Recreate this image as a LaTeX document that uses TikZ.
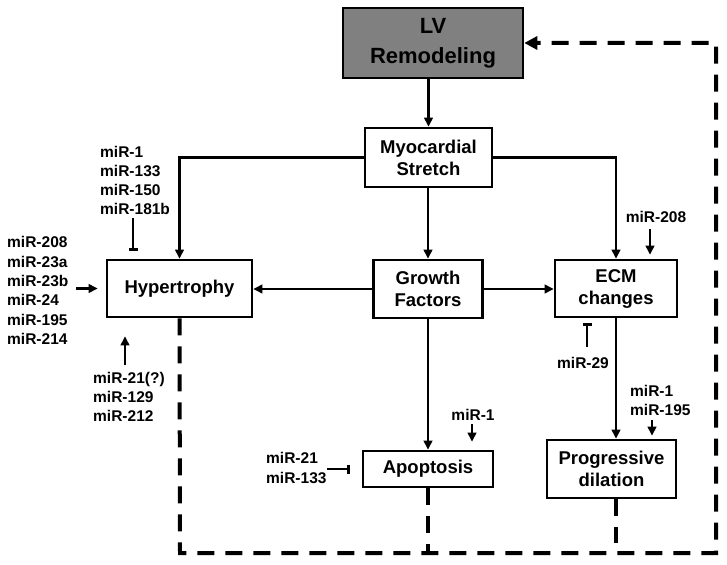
\documentclass[tikz,border=0pt]{standalone}
\usepackage{fontspec}
\setmainfont{Liberation Sans}
\usetikzlibrary{arrows.meta,calc}
\definecolor{lvgray}{RGB}{128,128,128}

\begin{document}
\begin{tikzpicture}[x=1pt,y=-1pt,
  box/.style={draw,line width=2.6pt,align=center,inner sep=0pt,font=\fontsize{18.5}{22}\selectfont\bfseries},
  mir/.style={align=left,inner sep=0pt,font=\fontsize{15.5}{19.3}\selectfont\bfseries},
  act/.style={line width=2.3pt,-{Triangle[length=9pt,width=8.5pt]}},
  inh/.style={line width=2.3pt,-{Bar[width=9pt,line width=2.8pt]}},
  fback/.style={line width=4pt,dash pattern=on 17pt off 11pt}]
\useasboundingbox (0,0) rectangle (727,564);
\node [box,fill=lvgray,minimum width=180pt,minimum height=70pt,font=\fontsize{22}{30}\selectfont\bfseries] (lv) at (433,43) {LV\\Remodeling};
\node [box,minimum width=127pt,minimum height=59pt] (stretch) at (428.5,157.5) {Myocardial\\Stretch};
\node [box,minimum width=109pt,minimum height=58pt] (growth) at (428,289) {Growth\\Factors};
\node [box,minimum width=145pt,minimum height=57pt] (hyper) at (179.5,288.5) {Hypertrophy};
\node [box,minimum width=122pt,minimum height=57pt] (ecm) at (616,288.5) {ECM\\changes};
\node [box,minimum width=130pt,minimum height=36pt] (apop) at (428,469) {Apoptosis};
\node [box,minimum width=129pt,minimum height=58pt] (dil) at (611.5,469) {Progressive\\dilation};
\draw [act] (lv.south -| stretch.north) -- (stretch.north);
\draw [act] (stretch.west) -| (hyper.north);
\draw [act] (stretch.east) -| (ecm.north);
\draw [act] (stretch.south -| growth.north) -- (growth.north);
\draw [act] (growth.west) -- (growth.west -| hyper.east);
\draw [act] (growth.east) -- (growth.east -| ecm.west);
\draw [act] (growth.south) -- (apop.north);
\draw [act] (ecm.south) -- (ecm.south |- dil.north);
\node [mir,anchor=west] (mirht) at (100,180.5) {miR-1\\miR-133\\miR-150\\miR-181b};
\node [mir,anchor=west] (mirhl) at (7,290.5) {miR-208\\miR-23a\\miR-23b\\miR-24\\miR-195\\miR-214};
\node [mir,anchor=west] (mirhb) at (93,397) {miR-21(?)\\miR-129\\miR-212};
\node [mir] (mire) at (656,217) {miR-208};
\node [mir] (mireb) at (583,363) {miR-29};
\node [mir,anchor=west] (mird) at (630,400.5) {miR-1\\miR-195};
\node [mir] (mira) at (473,415) {miR-1};
\node [mir,anchor=west] (miral) at (266,468) {miR-21\\miR-133};
\coordinate (h1) at (133,218);
\coordinate (h2) at (76,288.5);
\coordinate (h3) at (125,365);
\coordinate (e1) at (650,229);
\coordinate (e2) at (587,347);
\coordinate (d1) at (652,420);
\coordinate (a1) at (472,424);
\coordinate (a2) at (327,469);
\draw [inh] (h1) -- ($(h1 |- hyper.north)+(0,-8)$);
\draw [act] (h2) -- ($(hyper.west)+(-8,0)$);
\draw [act] (h3) -- ($(h3 |- hyper.south)+(0,18)$);
\draw [act] (e1) -- ($(e1 |- ecm.north)+(0,-4)$);
\draw [inh] (e2) -- ($(e2 |- ecm.south)+(0,5)$);
\draw [act] (d1) -- ($(d1 |- dil.north)+(0,-3)$);
\draw [act] (a1) -- ($(a1 |- apop.north)+(0,-8)$);
\draw [inh] (a2) -- ($(a2 -| apop.west)+(-12,0)$);
\coordinate (fbl) at (180,553);
\coordinate (fbr) at (716,553);
\coordinate (fbt) at (716,43);
\draw [fback,-{Triangle[length=13pt,width=13pt]}] (hyper.south) -- (fbl) -- (fbr) -- (fbt) -- (lv.east);
\draw [fback] (apop.south) -- (apop.south |- fbl);
\draw [fback] (ecm.south |- dil.south) -- ($(ecm.south |- fbl)+(0,-10)$);
\end{tikzpicture}
\end{document}
